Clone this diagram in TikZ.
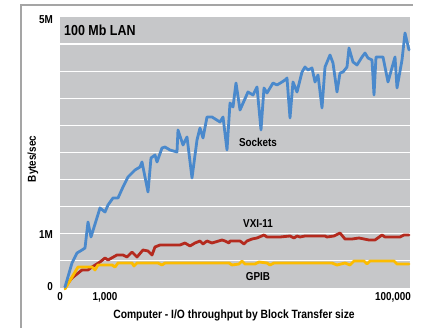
\documentclass[tikz,border=0pt]{standalone}
\usepackage{fontspec}
\setmainfont{Liberation Sans}[FakeStretch=0.86]
\usetikzlibrary{positioning}

\definecolor{plotbg}{RGB}{198,199,201}
\definecolor{framegray}{RGB}{165,165,165}
\definecolor{sockblue}{RGB}{74,137,204}
\definecolor{vxired}{RGB}{180,42,30}
\definecolor{gpibyellow}{RGB}{252,188,0}

\begin{document}
\begin{tikzpicture}[
		x=1pt, y=-1pt,
		lbl/.style = {font=\bfseries\fontsize{11.5}{12}\selectfont, inner sep=0pt},
		curve/.style = {line width=2.8pt, line join=round, line cap=round},
		gridline/.style = {white, line width=1.2pt}
	]
		\useasboundingbox (0,0) rectangle (423,328);

		% frame and plot area
		\draw[framegray, line width=1.8pt] (21,328) -- (21,5) -- (413,5);
		\node[fill=plotbg, inner sep=0pt, minimum width=350, minimum height=271, anchor=north west] (plot) at (60,17) {};
		\foreach \k in {1,...,9}
			\draw[gridline] (60,{17+27.1*\k}) -- (410,{17+27.1*\k});

		% curves
		\draw[curve, vxired] plot coordinates {(65,287) (72,278) (82,270) (88,270) (92,267) (100,262) (105,258) (108,260) (117,255) (123,255) (127,257) (132,252) (137,257) (143,250) (148,251) (152,255) (155,247) (160,245) (180,245) (185,243) (190,246) (195,243) (200,241) (203,244) (207,241) (212,243) (222,240) (225,241) (229,243) (230,241) (240,241) (244,244) (247,241) (252,239) (257,238) (264,235) (267,237) (280,237) (290,236) (294,238) (297,236) (300,237) (305,236) (325,236) (327,237) (334,236) (340,233) (345,239) (352,239) (359,238) (369,240) (375,240) (382,235) (385,237) (400,237) (404,235) (409,235)};
		\draw[curve, gpibyellow] plot coordinates {(65,289) (78,267) (92,267) (95,270) (98,265) (112,265) (115,267) (118,263) (132,263) (134,266) (137,263) (158,263) (162,265) (165,263) (229,263) (232,265) (239,264) (242,261) (245,264) (255,264) (259,262) (267,263) (270,265) (274,263) (332,263) (337,265) (345,263) (350,265) (354,261) (364,261) (367,264) (370,261) (394,261) (397,264) (409,264)};
		\draw[curve, sockblue] plot coordinates {(65,287) (72,263) (77,253) (82,250) (85,248) (88,222) (91,237) (100,208) (105,212) (108,205) (113,198) (118,198) (123,187) (128,177) (135,170) (140,167) (142,162) (148,192) (151,158) (155,155) (157,162) (162,148) (165,147) (170,150) (177,152) (178,130) (183,145) (187,137) (192,178) (197,140) (200,128) (203,138) (207,117) (212,117) (220,122) (223,117) (227,150) (230,103) (233,107) (236,83) (240,110) (248,92) (253,95) (257,87) (261,130) (264,88) (267,93) (273,83) (277,85) (282,82) (285,80) (287,78) (290,118) (293,82) (297,92) (302,72) (305,67) (308,70) (312,68) (315,82) (318,75) (322,108) (325,67) (330,55) (333,63) (337,92) (340,73) (343,72) (347,67) (349,48) (353,62) (357,65) (362,57) (365,53) (368,58) (372,60) (374,95) (376,57) (383,57) (388,82) (395,57) (397,88) (402,60) (405,33) (409,50)};

		% labels
		\node[lbl, font=\bfseries\fontsize{14.5}{15}\selectfont, anchor=west] (title) at (64,30) {100 Mb LAN};
		\node[lbl] (sockets) at (258,142) {Sockets};
		\node[lbl] (vxi) at (258,224) {VXI-11};
		\node[lbl] (gpib) at (258,277) {GPIB};

		\node[lbl, anchor=east] (ytop) at (53,20) {5M};
		\node[lbl, anchor=east] (yone) at (53,235) {1M};
		\node[lbl, anchor=east] (yzero) at (53,287) {0};
		\node[lbl] (xzero) at (60,297) {0};
		\node[lbl] (xthousand) at (105,297) {1,000};
		\node[lbl] (xmax) at (393,297) {100,000};

		\node[lbl, rotate=90] (ylabel) at (33,159) {Bytes/sec};
		\node[lbl, font=\bfseries\fontsize{12}{13}\selectfont] (xlabel) at (234,315) {Computer - I/O throughput by Block Transfer size};
	\end{tikzpicture}
\end{document}
